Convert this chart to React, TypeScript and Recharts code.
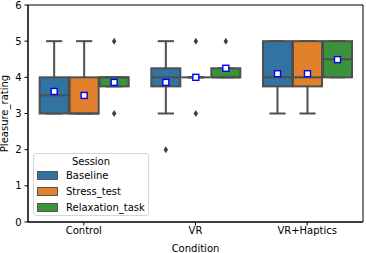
import React from 'react';
import { ComposedChart, Bar, XAxis, YAxis, ReferenceArea } from 'recharts';

const conditions = ['Control', 'VR', 'VR+Haptics'];
const sessions = ['Baseline', 'Stress_test', 'Relaxation_task'];
const colors = ['#3274a1', '#e1812c', '#3a923a'];

// rows: session, columns: condition
const whiskerLow = [[3, 3, 3], [3, 4, 3], [3.75, 4, 4]];
const q1 = [[3, 3.75, 3.75], [3, 4, 3.75], [3.75, 4, 4]];
const median = [[3.5, 4, 4], [3, 4, 4], [4, 4, 4.5]];
const q3 = [[4, 4.25, 5], [4, 4, 5], [4, 4.25, 5]];
const whiskerHigh = [[5, 5, 5], [5, 4, 5], [4, 4.25, 5]];
const means = [[3.61, 3.86, 4.1], [3.5, 4.0, 4.1], [3.86, 4.25, 4.49]];
const outliers = [[[], [2], []], [[], [3, 5], []], [[3, 5], [5], []]];

const yTicks = [0, 1, 2, 3, 4, 5, 6];

const font = 'DejaVu Sans, sans-serif';
const lineColor = '#4f4f4f';

const data = conditions.map((c, ci) => {
  const row: any = { condition: c };
  sessions.forEach((s, si) => {
    const pts = [whiskerLow[si][ci], whiskerHigh[si][ci], ...outliers[si][ci]];
    row[s] = [Math.min(...pts), Math.max(...pts)];
  });
  return row;
});

const makeBox = (si: number) => (props: any) => {
  const { x, y, width, height, payload } = props;
  const ci = conditions.indexOf(payload.condition);
  const [lo, hi] = payload[sessions[si]];
  const top = Math.min(y, y + height);
  const bottom = Math.max(y, y + height);
  const py = (v: number) => bottom - ((bottom - top) * (v - lo)) / (hi - lo);
  const cx = x + width / 2;
  const cap = width * 0.27;
  const bx = x + 0.5;
  const bw = width - 1;
  return (
    <g>
      <line x1={cx} x2={cx} y1={py(whiskerLow[si][ci])} y2={py(q1[si][ci])} stroke={lineColor} strokeWidth={2} />
      <line x1={cx} x2={cx} y1={py(q3[si][ci])} y2={py(whiskerHigh[si][ci])} stroke={lineColor} strokeWidth={2} />
      <line x1={cx - cap} x2={cx + cap} y1={py(whiskerLow[si][ci])} y2={py(whiskerLow[si][ci])} stroke={lineColor} strokeWidth={2} />
      <line x1={cx - cap} x2={cx + cap} y1={py(whiskerHigh[si][ci])} y2={py(whiskerHigh[si][ci])} stroke={lineColor} strokeWidth={2} />
      <rect
        x={bx}
        y={py(q3[si][ci])}
        width={bw}
        height={Math.max(py(q1[si][ci]) - py(q3[si][ci]), 0)}
        fill={colors[si]}
        stroke={lineColor}
        strokeWidth={2}
      />
      <line x1={bx} x2={bx + bw} y1={py(median[si][ci])} y2={py(median[si][ci])} stroke={lineColor} strokeWidth={2} />
      {outliers[si][ci].map((o, k) => {
        const oy = py(o);
        return (
          <polygon
            key={k}
            points={`${cx},${oy - 3.5} ${cx + 2.2},${oy} ${cx},${oy + 3.5} ${cx - 2.2},${oy}`}
            fill="#3d3d3d"
          />
        );
      })}
      <rect x={cx - 3} y={py(means[si][ci]) - 3} width={6} height={6} fill="#fff" stroke="#0000ff" strokeWidth={1.4} />
    </g>
  );
};

const Legend = () => (
  <div
    style={{
      position: 'absolute',
      left: 33,
      top: 153,
      width: 114,
      height: 61,
      border: '1px solid #d6d6d6',
      borderRadius: 3,
      background: 'rgba(255,255,255,0.85)',
      fontFamily: font,
      fontSize: 10,
      color: '#000',
    }}
  >
    <div style={{ position: 'absolute', left: 0, width: '100%', top: 1, textAlign: 'center', lineHeight: '13px' }}>Session</div>
    {sessions.map((s, i) => (
      <div key={s} style={{ position: 'absolute', left: 3, top: 15 + i * 16, height: 13, display: 'flex', alignItems: 'center' }}>
        <div style={{ width: 19, height: 7, background: colors[i], border: '1px solid #555', marginRight: 8 }} />
        <span style={{ lineHeight: '13px' }}>{s}</span>
      </div>
    ))}
  </div>
);

export default function App() {
  return (
    <div style={{ position: 'absolute', left: 0, top: 0, width: 366, height: 253, background: '#fff' }}>
      <ComposedChart
        width={366}
        height={253}
        data={data}
        margin={{ top: 5, right: 3, bottom: 0, left: 0 }}
        barCategoryGap="10%"
        barGap={0}
      >
        <XAxis
          dataKey="condition"
          height={31}
          stroke="#000"
          tickSize={3.5}
          tickMargin={1}
          tick={{ fill: '#000', fontSize: 10, fontFamily: font }}
          label={{ value: 'Condition', position: 'insideBottom', offset: 1, fill: '#000', fontSize: 10, fontFamily: font }}
        />
        <YAxis
          domain={[0, 6]}
          ticks={yTicks}
          width={28}
          stroke="#000"
          tickSize={3.5}
          tickMargin={3}
          tick={{ fill: '#000', fontSize: 10, fontFamily: font }}
          label={{ value: 'Pleasure_rating', angle: -90, position: 'insideLeft', offset: 0, dx: 4, fill: '#000', fontSize: 10, fontFamily: font, style: { textAnchor: 'middle' } }}
        />
        <ReferenceArea y1={0} y2={6} fill="none" fillOpacity={0} stroke="#000" strokeWidth={1} ifOverflow="visible" />
        {sessions.map((s, si) => (
          <Bar key={s} dataKey={s} name={s} fill={colors[si]} shape={makeBox(si)} isAnimationActive={false} />
        ))}
      </ComposedChart>
      <Legend />
    </div>
  );
}
